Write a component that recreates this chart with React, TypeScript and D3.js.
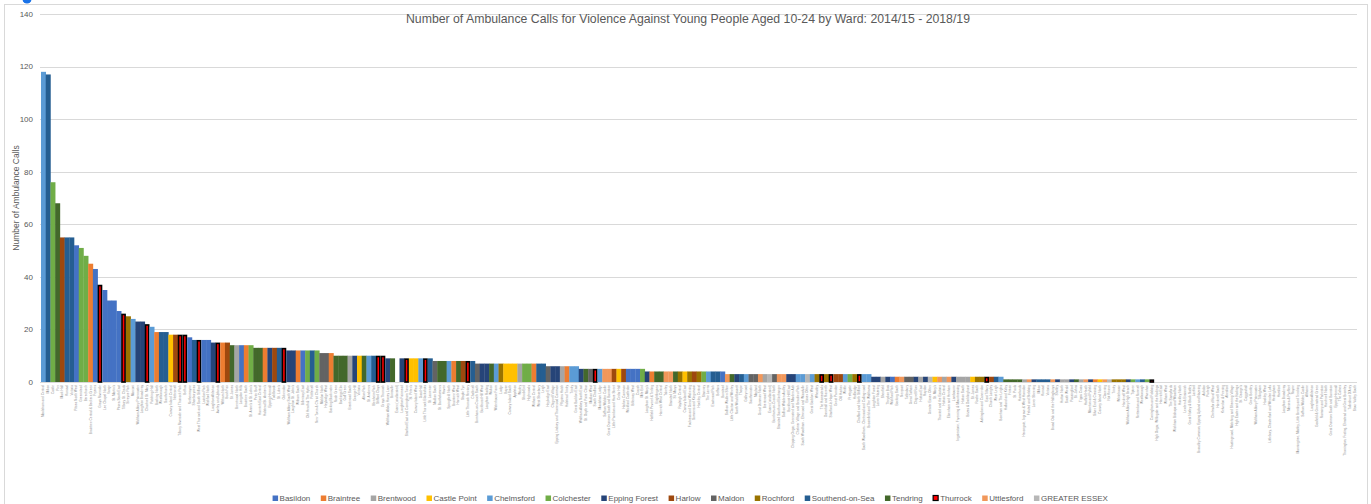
import * as d3 from "d3";
import React, { useEffect, useRef } from "react";

// Districts shown in the legend, with their codes and Excel colours
const districts = [
  "Basildon", "Braintree", "Brentwood", "Castle Point", "Chelmsford",
  "Colchester", "Epping Forest", "Harlow", "Maldon", "Rochford",
  "Southend-on-Sea", "Tendring", "Thurrock", "Uttlesford", "GREATER ESSEX",
];
const districtCodes = ["B", "Br", "Bw", "C", "Ch", "Co", "E", "H", "M", "R", "S", "T", "Th", "U", "G"];
const districtColours = [
  "#4472C4", "#ED7D31", "#A5A5A5", "#FFC000", "#5B9BD5",
  "#70AD47", "#264478", "#9E480E", "#636363", "#997300",
  "#255E91", "#43682B", "#FF0000", "#F1975A", "#B7B7B7",
];

// District of each ward, in chart order ("X" = no district given)
const wardDistrict = [
  "Ch", "S", "Co", "T", "H", "S", "S", "B", "Co", "Co",
  "Br", "B", "Th", "B", "B", "B", "B", "Th", "R", "Ch",
  "E", "E", "Th", "Ch", "Br", "S", "S", "C", "H", "Th",
  "Th", "B", "S", "Th", "B", "B", "E", "Th", "Br", "H",
  "T", "Bw", "B", "Br", "Co", "T", "T", "Br", "E", "H",
  "S", "Th", "E", "E", "Br", "B", "Co", "S", "Co", "M",
  "M", "Br", "T", "T", "T", "Bw", "E", "C", "T", "Ch",
  "S", "Th", "Th", "E", "T", "X", "E", "Th", "C", "C",
  "Ch", "Th", "S", "M", "T", "T", "Ch", "Br", "T", "H",
  "Th", "S", "M", "E", "E", "T", "Ch", "R", "C", "C",
  "C", "Bw", "Co", "Co", "Br", "S", "S", "M", "E", "E",
  "Bw", "Br", "Ch", "Ch", "E", "T", "M", "Th", "Ch", "U",
  "U", "H", "C", "H", "B", "B", "B", "Co", "E", "Br",
  "T", "T", "U", "U", "T", "R", "C", "R", "H", "R",
  "Co", "Ch", "S", "S", "B", "U", "T", "E", "S", "Ch",
  "M", "M", "U", "Bw", "G", "M", "U", "U", "E", "E",
  "Ch", "Ch", "G", "Ch", "R", "Th", "R", "Th", "H", "H",
  "Ch", "Co", "R", "Th", "Ch", "Ch", "E", "E", "Bw", "E",
  "B", "Br", "U", "M", "M", "E", "Bw", "E", "G", "C",
  "U", "Bw", "U", "E", "Bw", "Bw", "Bw", "C", "R", "R",
  "Th", "H", "S", "Ch", "T", "T", "T", "T", "Bw", "U",
  "E", "S", "S", "S", "U", "E", "Bw", "Bw", "E", "T",
  "Bw", "U", "E", "Br", "C", "U", "G", "R", "R", "R",
  "E", "Co", "Ch", "S", "Co", "Th",
  "E", "T", "Br", "U", "M", "R", "Co", "Br", "T", "E",
  "U", "M", "Ch", "R", "Br", "T", "E", "U", "C", "Br",
  "T", "E", "M", "R", "U", "Br", "T", "E", "Co", "Br",
  "T", "U", "M", "E", "Br", "T", "R", "U", "E", "Br",
  "T", "M", "Br",
];

// Ambulance calls per ward, 2014/15 - 2018/19
const wardCalls = [
  118, 117, 76, 68, 55, 55, 55, 52, 51, 48,
  45, 43, 37, 35, 31, 31, 27, 26, 25, 24,
  23, 23, 22, 21, 19, 19, 19, 18, 18, 18,
  18, 17, 16, 16, 16, 16, 15, 15, 15, 15,
  14, 14, 14, 14, 14, 13, 13, 13, 13, 13,
  13, 13, 12, 12, 12, 12, 12, 12, 12, 11,
  11, 11, 10, 10, 10, 10, 10, 10, 10, 10,
  10, 10, 10, 9, 9, 9, 9, 9, 9, 9,
  9, 9, 9, 8, 8, 8, 8, 8, 8, 8,
  8, 8, 7, 7, 7, 7, 7, 7, 7, 7,
  7, 7, 7, 7, 7, 7, 7, 6, 6, 6,
  6, 6, 6, 6, 5, 5, 5, 5, 5, 5,
  5, 5, 5, 5, 5, 5, 5, 5, 4, 4,
  4, 4, 4, 4, 4, 4, 4, 4, 4, 4,
  4, 4, 4, 4, 4, 3, 3, 3, 3, 3,
  3, 3, 3, 3, 3, 3, 3, 3, 3, 3,
  3, 3, 3, 3, 3, 3, 3, 3, 3, 3,
  3, 3, 3, 3, 3, 3, 2, 2, 2, 2,
  2, 2, 2, 2, 2, 2, 2, 2, 2, 2,
  2, 2, 2, 2, 2, 2, 2, 2, 2, 2,
  2, 2, 2, 2, 1, 1, 1, 1, 1, 1,
  1, 1, 1, 1, 1, 1, 1, 1, 1, 1,
  1, 1, 1, 1, 1, 1, 1, 1, 1, 1,
  1, 1, 1, 1, 1, 1,
  0, 0, 0, 0, 0, 0, 0, 0, 0, 0,
  0, 0, 0, 0, 0, 0, 0, 0, 0, 0,
  0, 0, 0, 0, 0, 0, 0, 0, 0, 0,
  0, 0, 0, 0, 0, 0, 0, 0, 0, 0,
  0, 0, 0,
];

// Ward names per district (used in order of appearance)
const basildonWards = ["Pitsea North West", "Fryerns", "Lee Chapel North", "Vange", "St. Martin's", "Pitsea South East", "Nethermayne", "Laindon Park", "Wickford North", "Langdon Hills", "Billericay East", "Wickford Castledon", "Billericay West", "Crouch", "Burstead", "Wickford Park"];
const braintreeWards = ["Braintree Central & Beckers Green", "Bocking North", "Witham North", "Braintree South", "Halstead St. Andrew's", "Witham South", "Bocking Blackwater", "Braintree West", "Witham Central", "Halstead Trinity", "Hatfield Peverel & Terling", "Bocking South", "Silver End & Cressing", "Witham West", "Great Notley & Black Notley", "Kelvedon & Feering", "Coggeshall", "Hedingham", "Rayne", "Gosfield & Greenstead Green", "The Colnes", "Stour Valley South", "Three Fields", "Bumpstead", "Yeldham", "Stour Valley North"];
const brentwoodWards = ["Brentwood North", "Brentwood South", "Warley", "Pilgrims Hatch", "Brentwood West", "Shenfield", "Hutton East", "Hutton Central", "Ingatestone, Fryerning & Mountnessing", "Hutton South", "Brizes & Doddinghurst", "Herongate, Ingrave & West Horndon", "Hutton North", "South Weald", "Tipps Cross"];
const castlePointWards = ["Canvey Island Central", "Victoria", "St. Peter's", "Canvey Island West", "Boyce", "Canvey Island South", "Appleton", "Cedar Hall", "Canvey Island East", "St. Mary's", "St. James", "Canvey Island North", "St. George's", "Canvey Island Winter Gardens"];
const chelmsfordWards = ["Moulsham and Central", "Marconi", "Patching Hall", "St. Andrews", "Goat Hall", "Springfield North", "Waterhouse Farm", "Trinity", "Great Baddow East", "Moulsham Lodge", "The Lawns", "Galleywood", "Chelmer Village and Beaulieu Park", "South Woodham - Elmwood and Woodville", "Great Baddow West", "Writtle", "South Woodham - Chetwood and Collingwood", "Broomfield and The Walthams", "Boreham and The Leighs", "Rettendon and Runwell", "Chelmsford Rural West", "Bicknacre and East and West Hanningfield", "Little Baddow, Danbury and Sandon", "South Hanningfield, Stock and Margaretting"];
const colchesterWards = ["Castle", "Greenstead", "Berechurch", "St. Anne's & St. John's", "Old Heath & The Hythe", "New Town & Christ Church", "Shrub End", "Highwoods", "Mile End", "Stanway", "Prettygate", "Tiptree", "Wivenhoe", "Lexden & Braiswick", "Mersea & Pyefleet", "Marks Tey & Layer", "Rural North"];
const eppingWards = ["Waltham Abbey Paternoster", "Loughton Broadway", "Loughton Alderton", "Epping Hemnall", "Waltham Abbey South West", "Loughton St. John's", "Grange Hill", "Waltham Abbey Honey Lane", "Loughton Fairmead", "Buckhurst Hill West", "Loughton Roding", "Chigwell Village", "Epping Lindsey and Thornwood Common", "Waltham Abbey North East", "Loughton St. Mary's", "North Weald Bassett", "Buckhurst Hill East", "Chipping Ongar, Greensted and Marden Ash", "Loughton Forest", "Lower Nazeing", "Theydon Bois", "Chigwell Row", "Roydon", "Lambourne", "Lower Sheering", "Shelley", "Passingford", "Moreton and Fyfield", "Waltham Abbey High Beach", "High Ongar, Willingale and the Rodings", "Broadley Common, Epping Upland and Nazeing", "Hastingwood, Matching and Sheering Village"];
const harlowWards = ["Mark Hall", "Netteswell", "Bush Fair", "Toddbrook", "Staple Tye", "Little Parndon and Hare Street", "Harlow Common", "Sumners and Kingsmoor", "Great Parndon", "Old Harlow", "Church Langley"];
const maldonWards = ["Maldon North", "Heybridge West", "Maldon South", "Burnham-on-Crouch South", "Heybridge East", "Maldon West", "Southminster", "Mayland", "Burnham-on-Crouch North", "Tollesbury", "Great Totham", "Wickham Bishops and Woodham", "Purleigh", "Tillingham", "Althorne", "Tolleshunt D'Arcy", "Heybridge Basin"];
const rochfordWards = ["Sweyne Park", "Lodge", "Rayleigh Central", "Foulness and Great Wakering", "Hockley Central", "Wheatley", "Downhall and Rawreth", "Hullbridge", "Roche South", "Ashingdon and Canewdon", "Trinity", "Whitehouse", "Hawkwell West", "Hockley North", "Hawkwell South", "Hockley West", "Hawkwell North", "Roche North and Rural"];
const southendWards = ["Milton", "Kursaal", "Victoria", "Westborough", "Southchurch", "Shoeburyness", "St. Luke's", "Prittlewell", "Blenheim Park", "St. Laurence", "Chalkwell", "West Shoebury", "Leigh", "Eastwood Park", "Belfairs", "Thorpe", "West Leigh"];
const tendringWards = ["Pier", "St. James", "Peter Bruff", "Harwich East Central", "Rush Green", "Bockings Elm", "Golf Green", "Alton Park", "Burrsville", "St. Bartholomews", "Haven", "Harwich West", "Walton", "St. Osyth and Point Clear", "Brightlingsea", "Harwich West Central", "St. Marys", "Little Clacton and Weeley", "Holland and Kirby", "Frinton", "St. Pauls", "Homelands", "St. Johns", "Harwich East", "Lawford", "Alresford", "Great Bentley", "Hamford", "Manningtree, Mistley, Little Bentley and Tendring", "Ramsey and Parkeston", "Thorrington, Frating, Elmstead and Great Bromley", "Ardleigh and Little Bromley", "Beaumont and Thorpe", "Great and Little Oakley", "Bradfield, Wrabness and Wix"];
const thurrockWards = ["Grays Riverside", "Tilbury St. Chads", "Chadwell St. Mary", "Tilbury Riverside and Thurrock Park", "Belhus", "West Thurrock and South Stifford", "Aveley and Uplands", "Ockendon", "Stifford Clays", "Grays Thurrock", "Stanford East and Corringham Town", "Little Thurrock Blackshots", "Little Thurrock Rectory", "South Chafford", "The Homesteads", "Stanford-le-Hope West", "Chafford and North Stifford", "East Tilbury", "Corringham and Fobbing", "Orsett"];
const uttlesfordWards = ["Saffron Walden Castle", "Great Dunmow South and Barnston", "Takeley", "Stansted North", "Saffron Walden Shire", "Great Dunmow North", "Stansted South and Birchanger", "Saffron Walden Audley", "Newport", "Thaxted and the Eastons", "Elsenham and Henham", "Felsted and Stebbing", "Broad Oak and the Hallingburys", "Hatfield Heath", "Clavering", "The Sampfords", "Ashdon", "High Easter and the Rodings", "Littlebury, Chesterford and Wenden Lofts"];
const otherWards = ["Essex (unallocated)", "Essex Other", "Greater Essex Other", "Not Known"];

const wardNameLists: Record<string, string[]> = {
  B: basildonWards, Br: braintreeWards, Bw: brentwoodWards, C: castlePointWards,
  Ch: chelmsfordWards, Co: colchesterWards, E: eppingWards, H: harlowWards,
  M: maldonWards, R: rochfordWards, S: southendWards, T: tendringWards,
  Th: thurrockWards, U: uttlesfordWards, G: otherWards, X: otherWards,
};

const chartTitle = "Number of Ambulance Calls for Violence Against Young People Aged 10-24 by Ward: 2014/15 - 2018/19";
const yTicks = [0, 20, 40, 60, 80, 100, 120, 140];

interface Ward {
  name: string;
  code: string;
  calls: number;
}

const App: React.FC = () => {
  const ref = useRef<SVGSVGElement>(null);

  useEffect(() => {
    const width = 1371;
    const height = 504;
    const plot = { left: 41, right: 1357, top: 14, bottom: 382 };
    const font = "'Liberation Sans', Arial, sans-serif";
    const textGrey = "#595959";

    // build wards, taking names in order from each district list
    const counters: Record<string, number> = {};
    const wards: Ward[] = wardCalls.map((calls, i) => {
      const code = wardDistrict[i];
      const list = wardNameLists[code];
      const n = counters[code] || 0;
      counters[code] = n + 1;
      return { name: list[n % list.length], code, calls };
    });

    const colourOf = (code: string) => {
      const k = districtCodes.indexOf(code);
      return k < 0 ? "none" : districtColours[k];
    };

    d3.select(ref.current).selectAll("*").remove();
    const svg = d3.select(ref.current)
      .attr("width", width)
      .attr("height", height)
      .style("font-family", font);

    // chart frame
    svg.append("rect")
      .attr("x", 4.5).attr("y", 4.5)
      .attr("width", 1363).attr("height", 520)
      .attr("fill", "#ffffff")
      .attr("stroke", "#d9d9d9");

    // little blue marker peeking in at the top left
    svg.append("circle")
      .attr("cx", 27).attr("cy", -1).attr("r", 4.5)
      .attr("fill", "#1a73e8");

    const x = d3.scaleBand<number>()
      .domain(d3.range(wards.length))
      .range([plot.left, plot.right])
      .padding(0);

    const y = d3.scaleLinear()
      .domain([0, 140])
      .range([plot.bottom, plot.top]);

    // gridlines
    svg.append("g")
      .selectAll("line")
      .data(yTicks)
      .join("line")
      .attr("x1", plot.left - 1)
      .attr("x2", plot.right)
      .attr("y1", (d) => Math.round(y(d)) + 0.5)
      .attr("y2", (d) => Math.round(y(d)) + 0.5)
      .attr("stroke", "#d9d9d9")
      .attr("stroke-width", 1);

    // y tick labels
    svg.append("g")
      .selectAll("text")
      .data(yTicks)
      .join("text")
      .attr("x", 33)
      .attr("y", (d) => y(d))
      .attr("dy", "0.35em")
      .attr("text-anchor", "end")
      .attr("fill", textGrey)
      .style("font-size", "8px")
      .text((d) => d);

    // bars
    const bw = x.bandwidth();
    svg.append("g")
      .selectAll("rect")
      .data(wards.map((w, i) => ({ ...w, i })).filter((w) => w.calls > 0))
      .join("rect")
      .attr("x", (d) => x(d.i)! + (d.code === "Th" ? 0.8 : 0))
      .attr("y", (d) => y(d.calls) + (d.code === "Th" ? 0.8 : 0))
      .attr("width", (d) => (d.code === "Th" ? bw - 1.6 : bw + 0.3))
      .attr("height", (d) => y(0) - y(d.calls) - (d.code === "Th" ? 0.8 : 0))
      .attr("fill", (d) => colourOf(d.code))
      .attr("stroke", (d) => (d.code === "Th" ? "#000000" : "none"))
      .attr("stroke-width", (d) => (d.code === "Th" ? 1.6 : 0));

    // x labels (ward names)
    svg.append("g")
      .selectAll("text")
      .data(wards)
      .join("text")
      .attr("transform", (_, i) => `translate(${x(i)! + bw / 2 + 1},${plot.bottom + 3}) rotate(-90)`)
      .attr("text-anchor", "end")
      .attr("fill", "#8c8c8c")
      .style("font-size", "3.2px")
      .text((d) => d.name);

    // y axis title
    svg.append("text")
      .attr("transform", `translate(19,${(plot.top + plot.bottom) / 2}) rotate(-90)`)
      .attr("text-anchor", "middle")
      .attr("fill", textGrey)
      .style("font-size", "8.5px")
      .text("Number of Ambulance Calls");

    // chart title
    svg.append("text")
      .attr("x", 688)
      .attr("y", 23)
      .attr("text-anchor", "middle")
      .attr("fill", textGrey)
      .attr("textLength", 564)
      .attr("lengthAdjust", "spacingAndGlyphs")
      .style("font-size", "13px")
      .text(chartTitle);

    // legend
    const gap = 10;
    const legend = svg.append("g");
    let cursor = 0;
    districts.forEach((name, k) => {
      const item = legend.append("g").attr("transform", `translate(${cursor},0)`);
      item.append("rect")
        .attr("x", 0.5).attr("y", -2.5)
        .attr("width", k === 12 ? 5 : 5.5).attr("height", k === 12 ? 5 : 5.5)
        .attr("fill", districtColours[k])
        .attr("stroke", k === 12 ? "#000000" : "none")
        .attr("stroke-width", 1.2);
      const t = item.append("text")
        .attr("x", 7.5)
        .attr("y", 0)
        .attr("dy", "0.35em")
        .attr("fill", textGrey)
        .style("font-size", "8px")
        .text(name);
      const tw = (t.node() as SVGTextElement).getComputedTextLength();
      cursor += 7.5 + tw + gap;
    });
    const legendWidth = cursor - gap;
    legend.attr("transform", `translate(${270 + (840 - legendWidth) / 2},498)`);
  }, []);

  return (
    <div style={{ position: "absolute", left: 0, top: 0 }}>
      <svg ref={ref}></svg>
    </div>
  );
};

export default App;
